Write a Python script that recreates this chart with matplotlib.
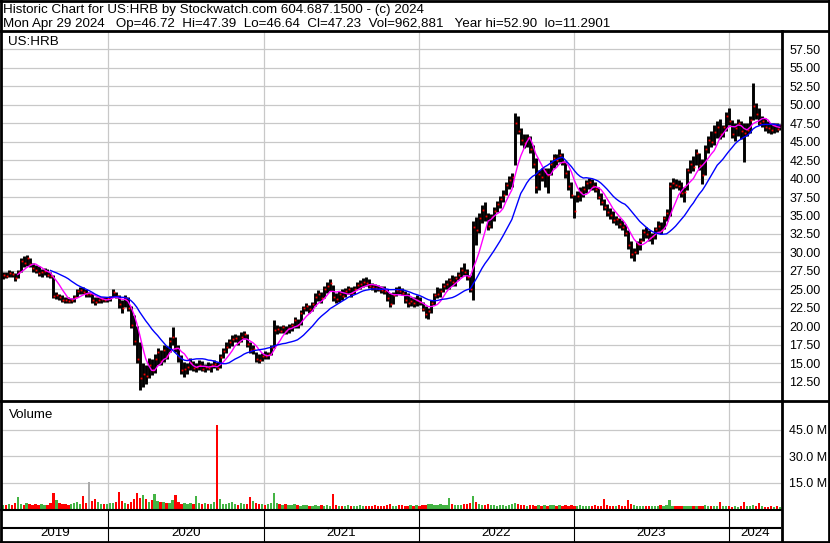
import numpy as np
import pandas as pd
import matplotlib
matplotlib.use('Agg')
import matplotlib.pyplot as plt
from matplotlib.lines import Line2D

plt.rcParams['font.family'] = ['Liberation Sans', 'DejaVu Sans']

# ---------------- data (weekly) ----------------
close = [
    27.0, 26.8, 27.2, 27.1, 26.5, 27.4, 28.8, 28.6, 29.3, 28.4,
    27.9, 27.6, 27.2, 27.3, 27.5, 27.0, 26.8, 24.1, 24.2, 23.9,
    23.6, 23.5, 23.4, 23.6, 24.0, 24.8, 24.9, 24.7, 24.3, 24.3,
    23.5, 23.3, 23.6, 23.7, 23.5, 23.8, 23.9, 24.6, 24.1, 23.0,
    22.5, 23.8, 22.4, 20.2, 18.0, 15.5, 13.0, 13.5, 13.3, 14.8,
    14.0, 15.5, 16.5, 15.3, 16.8, 16.0, 18.0, 18.5, 17.0, 15.8,
    14.0, 14.2, 14.5, 15.0, 14.4, 14.5, 14.8, 14.2, 14.5, 14.4,
    14.7, 14.9, 14.3, 15.8, 16.6, 17.2, 17.8, 18.2, 18.4, 17.8,
    18.6, 18.9, 17.6, 16.8, 16.9, 15.6, 15.4, 16.0, 15.9, 16.2,
    17.2, 19.5, 19.6, 19.4, 19.9, 19.3, 19.8, 20.2, 20.8, 20.2,
    21.8, 22.4, 22.7, 22.3, 23.0, 24.0, 24.3, 23.8, 25.0, 25.4,
    25.8, 24.0, 23.7, 24.4, 24.1, 24.8, 25.0, 24.5, 25.1, 25.6,
    25.7, 26.0, 25.8, 25.5, 25.3, 25.2, 25.1, 24.9, 24.8, 23.8,
    23.0, 24.2, 24.9, 24.8, 24.5, 23.5, 23.2, 23.4, 23.1, 23.6,
    23.3, 22.3, 21.6, 22.0, 23.2, 24.2, 24.4, 24.8, 25.4, 25.7,
    26.2, 26.0, 26.5, 27.0, 27.6, 27.4, 26.6, 25.0, 33.5, 33.0,
    34.6, 35.8, 35.0, 33.6, 34.8, 35.6, 36.6, 37.2, 37.8, 39.2,
    39.8, 40.2, 47.5, 46.5, 45.2, 44.8, 45.5, 44.0, 42.0, 38.8,
    40.6, 40.2, 41.0, 40.5, 42.0, 42.8, 42.5, 43.2, 42.2, 40.8,
    39.0, 37.8, 35.6, 37.6, 38.2, 38.6, 39.4, 39.6, 39.0, 38.6,
    37.5, 36.8, 36.2, 35.5, 35.1, 34.4, 34.5, 33.9, 33.5, 32.6,
    31.0, 29.8, 30.1, 31.2, 31.5, 32.8, 32.5, 31.9, 32.2, 33.2,
    33.6, 33.1, 34.6, 35.3, 39.0, 39.4, 39.2, 39.0, 38.0, 38.2,
    41.2, 42.0, 41.6, 43.5, 41.8, 40.5, 44.0, 45.2, 45.0, 46.3,
    47.0, 46.0, 47.0, 48.5, 47.8, 46.0, 46.8, 47.5, 46.5, 46.2,
    46.6, 48.0, 49.8, 48.8, 47.6, 47.8, 47.0, 46.8, 46.6, 47.3,
    46.7, 47.23,
]
high = [
    27.4, 27.3, 27.6, 27.5, 27.2, 27.6, 29.2, 29.5, 29.6, 29.3,
    28.6, 28.3, 28.2, 27.8, 27.9, 27.8, 27.4, 26.9, 24.6, 24.4,
    24.2, 24.0, 23.9, 23.8, 24.2, 25.0, 25.3, 25.3, 25.0, 24.6,
    24.5, 24.0, 23.9, 23.9, 24.0, 23.9, 24.1, 25.1, 24.7, 24.2,
    23.5, 24.2, 24.0, 22.8, 21.5, 20.0, 17.8, 15.0, 14.7, 15.7,
    15.5, 16.2, 17.0, 16.8, 17.4, 17.3, 18.5, 19.9, 18.6, 17.4,
    16.1, 15.2, 15.0, 15.7, 15.3, 15.0, 15.4, 15.3, 14.9, 15.2,
    15.0, 15.4, 15.2, 16.2, 17.0, 17.8, 18.2, 18.8, 19.0, 18.8,
    19.2, 19.3, 18.9, 17.8, 17.5, 16.5, 16.2, 16.4, 16.6, 16.5,
    17.5, 20.8, 20.1, 20.0, 20.2, 20.0, 20.3, 20.5, 21.2, 21.0,
    22.2, 22.8, 23.1, 22.9, 23.3, 24.5, 24.9, 24.6, 25.5, 26.0,
    26.4, 25.6, 24.5, 24.8, 25.0, 25.2, 25.5, 25.3, 25.4, 26.0,
    26.3, 26.5, 26.7, 26.4, 25.9, 25.7, 25.6, 25.5, 25.4, 25.0,
    24.5, 24.6, 25.3, 25.5, 25.2, 24.8, 24.5, 24.0, 23.9, 24.2,
    24.0, 23.3, 22.8, 22.4, 23.5, 24.5, 25.3, 25.2, 25.8, 26.3,
    26.5, 26.9, 26.8, 27.4, 28.0, 28.6, 27.8, 27.0, 34.3, 34.8,
    35.3, 36.4, 36.8, 35.3, 35.2, 36.1, 37.0, 37.6, 38.4, 39.6,
    40.4, 40.8, 48.9, 48.5, 46.8, 46.1, 46.0, 45.8, 44.5, 42.8,
    41.2, 41.5, 41.5, 41.4, 42.5, 43.4, 43.4, 44.0, 43.5, 42.4,
    41.1, 39.5, 37.8, 38.3, 38.8, 39.0, 39.8, 40.1, 40.0, 39.5,
    38.9, 38.0, 37.2, 36.5, 36.0, 35.6, 35.0, 34.7, 34.4, 33.8,
    33.0, 31.6, 30.6, 31.5, 32.0, 33.2, 33.4, 33.0, 32.6, 33.5,
    34.3, 34.1, 35.0, 35.9, 39.5, 40.1, 40.0, 39.8, 39.5, 38.8,
    41.5, 42.5, 43.0, 44.0, 43.5, 42.7, 44.5, 45.8, 46.5, 47.2,
    47.8, 48.1, 47.3, 49.0, 49.5, 48.0, 47.5, 48.1, 47.8, 47.6,
    47.5, 48.5, 52.9, 50.3, 49.5, 48.5, 48.2, 47.8, 47.6, 47.6,
    47.5, 47.39,
]
low = [
    26.4, 26.5, 26.6, 26.7, 26.1, 26.5, 27.4, 28.0, 28.2, 28.0,
    27.4, 27.2, 26.8, 26.6, 26.9, 26.6, 26.5, 23.8, 23.7, 23.5,
    23.3, 23.2, 23.1, 23.1, 23.3, 23.9, 24.4, 24.3, 24.0, 23.9,
    23.1, 22.9, 23.2, 23.2, 23.3, 23.3, 23.4, 23.9, 23.8, 22.4,
    21.8, 22.6, 22.0, 19.8, 17.4, 15.0, 11.3, 11.8, 12.2, 13.0,
    13.4, 13.6, 14.8, 14.7, 15.1, 15.5, 16.5, 17.5, 16.5, 15.1,
    13.5, 13.1, 13.5, 14.0, 13.9, 13.8, 14.0, 13.9, 13.8, 14.1,
    13.8, 14.3, 14.0, 14.4, 15.7, 16.4, 17.0, 17.3, 17.8, 17.4,
    17.8, 18.2, 17.2, 16.4, 16.3, 15.2, 15.0, 15.3, 15.5, 15.6,
    16.1, 17.0, 19.0, 19.1, 19.1, 19.0, 19.1, 19.3, 19.7, 19.8,
    20.2, 21.6, 22.0, 21.8, 22.0, 22.8, 23.4, 23.2, 23.8, 24.5,
    24.8, 23.4, 23.1, 23.3, 23.5, 23.9, 24.3, 24.0, 24.3, 25.0,
    25.1, 25.3, 25.4, 25.2, 24.9, 24.7, 24.8, 24.5, 24.4, 23.4,
    22.6, 23.0, 24.1, 24.3, 24.2, 23.1, 22.6, 22.7, 22.6, 22.8,
    22.9, 22.0, 21.1, 21.0, 21.8, 22.9, 23.8, 23.9, 24.6, 25.0,
    25.1, 25.5, 25.4, 26.2, 26.6, 27.0, 26.2, 24.6, 23.5, 31.0,
    32.6, 34.0, 34.3, 33.0, 33.3, 34.3, 35.5, 36.0, 36.8, 37.8,
    38.6, 38.9, 41.8, 46.0, 44.5, 44.2, 44.3, 43.5, 41.5, 38.0,
    38.5, 39.7, 38.8, 38.0, 40.5, 41.5, 41.8, 42.2, 41.8, 40.1,
    38.5, 37.4, 34.7, 36.8, 37.0, 37.5, 38.0, 38.6, 38.4, 38.2,
    37.2, 36.4, 35.7, 34.9, 34.5, 34.0, 33.7, 33.3, 33.0, 32.2,
    30.5, 29.2, 28.9, 29.8, 30.3, 31.5, 32.0, 31.6, 31.2, 31.8,
    32.6, 32.5, 33.2, 34.2, 35.0, 38.6, 38.7, 38.5, 37.5, 36.8,
    38.5, 40.8, 41.0, 41.8, 41.2, 39.3, 40.5, 43.5, 44.3, 44.5,
    45.5, 45.4, 45.6, 46.5, 47.2, 45.5, 45.1, 45.8, 45.4, 42.2,
    45.8, 46.2, 48.0, 48.1, 47.2, 47.0, 46.4, 46.2, 46.1, 46.2,
    46.3, 46.64,
]
volume_m = [
    # 2019
    2.5, 2.0, 3.0, 2.2, 3.5, 7.0, 3.0, 2.4, 3.2, 2.6, 2.2, 3.0, 2.5, 2.8, 2.0,
    2.4, 3.5, 9.0, 5.0, 3.5, 2.6, 3.0, 2.4, 2.8, 3.2, 4.0, 3.0, 7.5, 3.6, 15.5,
    4.5, 5.7, 3.8, 3.0, 2.6,
    # 2020
    2.8, 3.2, 3.5, 4.0, 9.8, 4.5, 3.6, 3.0, 4.2, 5.5, 9.0, 6.0, 8.0, 5.5, 4.2,
    5.0, 8.5, 4.5, 3.8, 4.0, 3.2, 3.5, 5.0, 7.8, 4.2, 3.0, 3.5, 2.8, 3.2, 3.0,
    7.5, 3.6, 2.8, 3.5, 3.0, 2.6, 4.0, 48.0, 5.5, 3.0, 2.8, 3.2, 4.0, 3.0, 2.5,
    3.4, 3.0, 2.6, 7.0, 4.5, 3.5, 2.8,
    # 2021
    3.0, 2.5, 2.8, 3.5, 9.0, 3.2, 2.6, 2.2, 3.0, 2.4, 2.0, 2.6, 2.2, 1.8, 2.0,
    2.4, 1.8, 1.6, 2.0, 1.8, 2.2, 1.6, 2.0, 1.8, 8.4, 2.0, 1.6, 1.8, 1.5, 2.0,
    1.6, 1.8, 1.4, 2.2, 1.6, 1.5, 1.8, 1.4, 2.0, 1.6, 1.5, 1.8, 2.4, 2.8, 1.8,
    1.6, 2.0, 2.4, 1.8, 1.6, 2.0, 1.8,
    # 2022
    2.0, 1.8, 2.4, 2.2, 2.8, 3.0, 2.4, 2.0, 2.6, 2.2, 2.4, 6.2, 2.8, 2.2, 2.5,
    2.0, 2.6, 3.0, 3.5, 7.5, 4.0, 3.0, 2.5, 2.2, 2.8, 2.0, 2.4, 1.8, 2.0, 2.2,
    1.8, 2.0, 2.8, 3.5, 2.6, 2.2, 2.0, 1.8, 2.4, 2.0, 1.6, 2.2, 1.8, 2.0, 1.6,
    2.4, 2.0, 1.8, 2.2, 1.6, 2.0, 1.8, 2.2,
    # 2023
    1.8, 1.6, 2.0, 1.5, 1.8, 1.4, 1.6, 2.0, 1.5, 1.8, 5.7, 2.2, 1.6, 1.4, 1.8,
    2.0, 1.5, 1.6, 5.0, 2.8, 2.4, 1.8, 1.6, 1.5, 1.8, 1.4, 1.6, 1.5, 1.8, 2.2,
    1.6, 2.0, 5.0, 1.8, 1.5, 1.6, 1.4, 1.8, 1.5, 1.6, 1.4, 1.8, 1.6, 1.5, 2.4,
    1.6, 1.4, 1.8, 1.5, 4.0, 1.6, 1.4,
    # 2024
    1.4, 1.2, 1.5, 1.3, 1.6, 4.0, 1.4, 1.5, 2.2, 1.8, 3.6, 1.4, 1.2, 1.3, 1.5,
    1.2, 1.4, 0.96,
]
years = ['2019', '2020', '2021', '2022', '2023', '2024']
price_ticks = [12.5, 15.0, 17.5, 20.0, 22.5, 25.0, 27.5, 30.0, 32.5, 35.0,
               37.5, 40.0, 42.5, 45.0, 47.5, 50.0, 52.5, 55.0, 57.5]
vol_ticks = [15.0, 30.0, 45.0]
header1 = "Historic Chart for US:HRB by Stockwatch.com 604.687.1500 - (c) 2024"
header2 = ("Mon Apr 29 2024   Op=46.72  Hi=47.39  Lo=46.64  Cl=47.23  "
           "Vol=962,881   Year hi=52.90  lo=11.2901")

# ---------------- derived ----------------
dates = pd.date_range(end='2024-04-29', periods=len(close), freq='7D')
s = pd.Series(close, index=dates)
ma_short = s.rolling(6).mean()
ma_long = s.rolling(17).mean()
chg = s.diff()
vcolors = ['#ff0000' if (d < 0) else ('#aaaaaa' if d == 0 else '#44b444')
           for d in chg.fillna(1.0)]

x0 = dates[0] - pd.Timedelta(days=2)
x1 = dates[-1] + pd.Timedelta(days=3)
year_starts = [pd.Timestamp(f'{y}-01-01') for y in years[1:]]

W, H = 830, 543
fig = plt.figure(figsize=(8.3, 5.43), dpi=100)


def fx(px):
    return px / W


def fy(py):
    return 1 - py / H


GRID = '#c8c8c8'
FS = 9
HFS = 9.6

# ---------------- price panel ----------------
L, R = 2, 781
ax = fig.add_axes([fx(L), fy(400), fx(R) - fx(L), fy(31) - fy(400)])
ax.set_xlim(x0, x1)
ax.set_ylim(10, 60)
ax.set_yticks(price_ticks)
ax.set_yticklabels([f'{v:.2f}' for v in price_ticks])
ax.yaxis.tick_right()
ax.tick_params(axis='y', length=0, pad=6, labelsize=FS)
ax.set_xticks(year_starts)
ax.tick_params(axis='x', length=0, labelbottom=False)
ax.grid(True, color=GRID, lw=0.9, zorder=0)
ax.set_axisbelow(True)
ax.vlines(dates, low, high, color='black', lw=2.1, zorder=2)
ax.plot(dates + pd.Timedelta(days=2), close, ls='none', marker='s',
        ms=1.3, mfc='#ff0000', mec='none', zorder=3)
ax.plot(dates, ma_short, color='#ff00ff', lw=1.0, zorder=4)
ax.plot(dates, ma_long, color='#0000ff', lw=1.0, zorder=4)
for sp in ax.spines.values():
    sp.set_visible(False)
ax.text(6 / (R - L), 1 - 14 / 369, 'US:HRB', transform=ax.transAxes,
        fontsize=HFS, va='baseline', ha='left')

# ---------------- volume panel ----------------
vax = fig.add_axes([fx(L), fy(510), fx(R) - fx(L), fy(401) - fy(510)])
vax.set_xlim(x0, x1)
vax.set_ylim(-0.6, 61.5)
vax.bar(dates, volume_m, width=5.5, color=vcolors, zorder=2)
vax.set_yticks(vol_ticks)
vax.set_yticklabels([f'{v:.1f} M' for v in vol_ticks])
vax.yaxis.tick_right()
vax.tick_params(axis='y', length=0, pad=6, labelsize=FS)
vax.set_xticks(year_starts)
vax.tick_params(axis='x', length=0, labelbottom=False)
vax.grid(True, color=GRID, lw=0.9, zorder=0)
vax.set_axisbelow(True)
for sp in vax.spines.values():
    sp.set_visible(False)
vax.text(7 / (R - L), 1 - 17 / 109, 'Volume', transform=vax.transAxes,
         fontsize=HFS, va='baseline', ha='left')

# ---------------- year strip ----------------
yax = fig.add_axes([fx(L), fy(542), fx(R) - fx(L), fy(510) - fy(542)])
yax.set_xlim(x0, x1)
yax.set_ylim(0, 1)
yax.axis('off')
for d in year_starts:
    yax.axvline(d, color='black', lw=0.8)
yax.axhline((542 - 528) / 32, color='black', lw=1.5)
bounds = [x0] + year_starts + [x1]
for i, y in enumerate(years):
    mid = bounds[i] + (bounds[i + 1] - bounds[i]) / 2
    yax.text(mid, 0.2, y, ha='center', va='baseline', fontsize=HFS)

# ---------------- header & frame lines ----------------
fig.text(fx(3), fy(12.5), header1, fontsize=HFS, va='baseline', ha='left')
fig.text(fx(3), fy(26.5), header2, fontsize=HFS, va='baseline', ha='left')


def hline(py, xa, xb, lw=2.0):
    fig.add_artist(Line2D([fx(xa), fx(xb)], [fy(py), fy(py)], color='black',
                          lw=lw, transform=fig.transFigure))


def vline(px, ya, yb, lw=2.0):
    fig.add_artist(Line2D([fx(px), fx(px)], [fy(ya), fy(yb)], color='black',
                          lw=lw, transform=fig.transFigure))


hline(0.7, 0, 830)
hline(542.3, 0, 830)
vline(0.8, 0, 543)
vline(828.5, 0, 543)
hline(31, 0, 830)
hline(400.5, 0, 830)
hline(510, 0, 781, lw=1.5)
vline(781.5, 31, 543)

fig.savefig('out.png', dpi=100)
